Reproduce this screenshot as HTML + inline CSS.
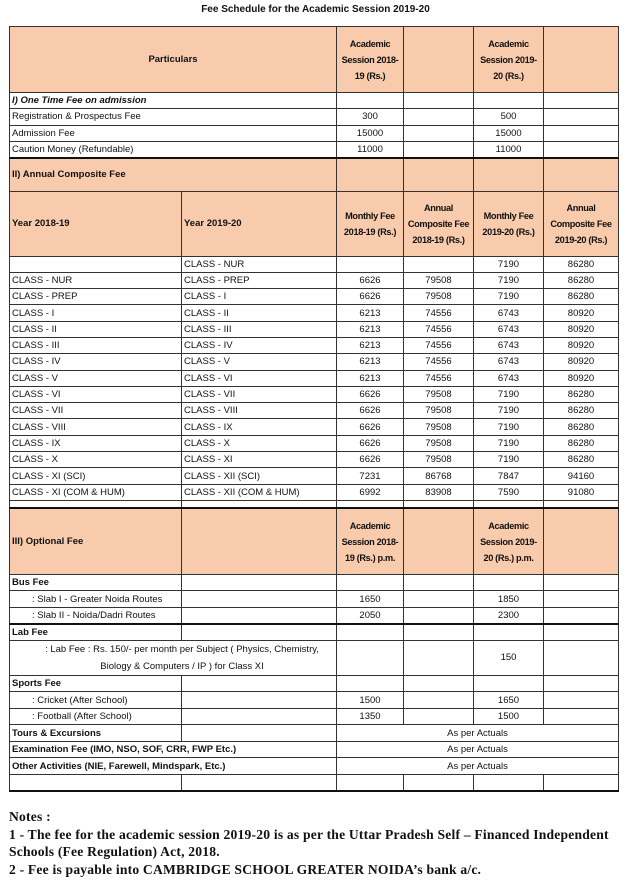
<!DOCTYPE html>
<html><head><meta charset="utf-8"><style>
body{margin:0;width:631px;height:893px;background:#fff;position:relative;font-family:"Liberation Sans",sans-serif;color:#111;overflow:hidden}
.title{position:absolute;top:4px;left:0;width:631px;text-align:center;font-size:10px;font-weight:bold}
table{position:absolute;left:9px;border-collapse:collapse;table-layout:fixed;width:609px;font-size:9.5px}
td{border:1px solid #333;padding:0 2px;overflow:hidden;white-space:nowrap;line-height:11px}
.h{background:#f8cbad;font-weight:bold}
.hw{white-space:normal;font-size:9.2px;letter-spacing:-0.35px;line-height:16px;padding:0 1px}
.c{text-align:center}
.b{font-weight:bold}
.tt{border-top:2px solid #111}
.notes{position:absolute;left:9px;top:808px;font-family:"Liberation Serif",serif;font-weight:bold;font-size:13.6px;line-height:17.5px;letter-spacing:0.2px;width:625px}
</style></head><body>
<div class="title">Fee Schedule for the Academic Session 2019-20</div>
<table style="top:26px">
<colgroup><col style="width:172px"><col style="width:155px"><col style="width:67px"><col style="width:70px"><col style="width:70px"><col style="width:75px"></colgroup>
<tr style="height:66px"><td class="h c" colspan="2">Particulars</td><td class="h c hw">Academic<br>Session 2018-<br>19 (Rs.)</td><td class="h"></td><td class="h c hw">Academic<br>Session 2019-<br>20 (Rs.)</td><td class="h"></td></tr>
<tr style="height:16px"><td colspan="2" class="b"><i>I) One Time Fee on admission</i></td><td></td><td></td><td></td><td></td></tr>
<tr style="height:16.5px"><td colspan="2">Registration &amp; Prospectus Fee</td><td class="c">300</td><td></td><td class="c">500</td><td></td></tr>
<tr style="height:16.5px"><td colspan="2">Admission Fee</td><td class="c">15000</td><td></td><td class="c">15000</td><td></td></tr>
<tr style="height:16.5px"><td colspan="2">Caution Money (Refundable)</td><td class="c">11000</td><td></td><td class="c">11000</td><td></td></tr>
<tr style="height:33px"><td class="h tt" colspan="2">II) Annual Composite Fee</td><td class="h tt"></td><td class="h tt"></td><td class="h tt"></td><td class="h tt"></td></tr>
<tr style="height:65px"><td class="h">Year 2018-19</td><td class="h">Year 2019-20</td><td class="h c hw">Monthly Fee<br>2018-19 (Rs.)</td><td class="h c hw">Annual<br>Composite Fee<br>2018-19 (Rs.)</td><td class="h c hw">Monthly Fee<br>2019-20 (Rs.)</td><td class="h c hw">Annual<br>Composite Fee<br>2019-20 (Rs.)</td></tr>
<tr style="height:16.3px"><td></td><td>CLASS - NUR</td><td></td><td></td><td class="c">7190</td><td class="c">86280</td></tr>
<tr style="height:16.3px"><td>CLASS - NUR</td><td>CLASS - PREP</td><td class="c">6626</td><td class="c">79508</td><td class="c">7190</td><td class="c">86280</td></tr>
<tr style="height:16.3px"><td>CLASS - PREP</td><td>CLASS - I</td><td class="c">6626</td><td class="c">79508</td><td class="c">7190</td><td class="c">86280</td></tr>
<tr style="height:16.3px"><td>CLASS - I</td><td>CLASS - II</td><td class="c">6213</td><td class="c">74556</td><td class="c">6743</td><td class="c">80920</td></tr>
<tr style="height:16.3px"><td>CLASS - II</td><td>CLASS - III</td><td class="c">6213</td><td class="c">74556</td><td class="c">6743</td><td class="c">80920</td></tr>
<tr style="height:16.3px"><td>CLASS - III</td><td>CLASS - IV</td><td class="c">6213</td><td class="c">74556</td><td class="c">6743</td><td class="c">80920</td></tr>
<tr style="height:16.3px"><td>CLASS - IV</td><td>CLASS - V</td><td class="c">6213</td><td class="c">74556</td><td class="c">6743</td><td class="c">80920</td></tr>
<tr style="height:16.3px"><td>CLASS - V</td><td>CLASS - VI</td><td class="c">6213</td><td class="c">74556</td><td class="c">6743</td><td class="c">80920</td></tr>
<tr style="height:16.3px"><td>CLASS - VI</td><td>CLASS - VII</td><td class="c">6626</td><td class="c">79508</td><td class="c">7190</td><td class="c">86280</td></tr>
<tr style="height:16.3px"><td>CLASS - VII</td><td>CLASS - VIII</td><td class="c">6626</td><td class="c">79508</td><td class="c">7190</td><td class="c">86280</td></tr>
<tr style="height:16.3px"><td>CLASS - VIII</td><td>CLASS - IX</td><td class="c">6626</td><td class="c">79508</td><td class="c">7190</td><td class="c">86280</td></tr>
<tr style="height:16.3px"><td>CLASS - IX</td><td>CLASS - X</td><td class="c">6626</td><td class="c">79508</td><td class="c">7190</td><td class="c">86280</td></tr>
<tr style="height:16.3px"><td>CLASS - X</td><td>CLASS - XI</td><td class="c">6626</td><td class="c">79508</td><td class="c">7190</td><td class="c">86280</td></tr>
<tr style="height:16.3px"><td>CLASS - XI (SCI)</td><td>CLASS - XII (SCI)</td><td class="c">7231</td><td class="c">86768</td><td class="c">7847</td><td class="c">94160</td></tr>
<tr style="height:16.3px"><td>CLASS - XI (COM &amp; HUM)</td><td>CLASS - XII (COM &amp; HUM)</td><td class="c">6992</td><td class="c">83908</td><td class="c">7590</td><td class="c">91080</td></tr>
<tr style="height:8px"><td></td><td></td><td></td><td></td><td></td><td></td></tr>
<tr style="height:66px"><td class="h tt">III) Optional Fee</td><td class="h tt"></td><td class="h c tt hw">Academic<br>Session 2018-<br>19 (Rs.) p.m.</td><td class="h tt"></td><td class="h c tt hw">Academic<br>Session 2019-<br>20 (Rs.) p.m.</td><td class="h tt"></td></tr>
<tr style="height:16.5px"><td class="b">Bus Fee</td><td></td><td></td><td></td><td></td><td></td></tr>
<tr style="height:16.5px"><td style="padding-left:22px">: Slab I - Greater Noida Routes</td><td></td><td class="c">1650</td><td></td><td class="c">1850</td><td></td></tr>
<tr style="height:16.5px"><td style="padding-left:22px">: Slab II - Noida/Dadri Routes</td><td></td><td class="c">2050</td><td></td><td class="c">2300</td><td></td></tr>
<tr style="height:16.5px"><td class="b tt">Lab Fee</td><td class="tt"></td><td class="tt"></td><td class="tt"></td><td class="tt"></td><td class="tt"></td></tr>
<tr style="height:35px"><td colspan="2" class="c" style="line-height:17px;padding-left:20px">: Lab Fee : Rs. 150/- per month per Subject ( Physics, Chemistry,<br>Biology &amp; Computers / IP ) for Class XI</td><td></td><td></td><td class="c">150</td><td></td></tr>
<tr style="height:16.5px"><td class="b">Sports Fee</td><td></td><td></td><td></td><td></td><td></td></tr>
<tr style="height:16.5px"><td style="padding-left:22px">: Cricket (After School)</td><td></td><td class="c">1500</td><td></td><td class="c">1650</td><td></td></tr>
<tr style="height:16.5px"><td style="padding-left:22px">: Football (After School)</td><td></td><td class="c">1350</td><td></td><td class="c">1500</td><td></td></tr>
<tr style="height:16.5px"><td class="b">Tours &amp; Excursions</td><td></td><td colspan="4" class="c">As per Actuals</td></tr>
<tr style="height:16.5px"><td colspan="2" class="b">Examination Fee (IMO, NSO, SOF, CRR, FWP Etc.)</td><td colspan="4" class="c">As per Actuals</td></tr>
<tr style="height:16.5px"><td colspan="2" class="b">Other Activities (NIE, Farewell, Mindspark, Etc.)</td><td colspan="4" class="c">As per Actuals</td></tr>
<tr style="height:16.5px"><td style="border-bottom:2px solid #111"></td><td style="border-bottom:2px solid #111"></td><td style="border-bottom:2px solid #111"></td><td style="border-bottom:2px solid #111"></td><td style="border-bottom:2px solid #111"></td><td style="border-bottom:2px solid #111"></td></tr>
</table>
<div class="notes">Notes :<br>1 - The fee for the academic session 2019-20 is as per the Uttar Pradesh Self – Financed Independent<br>Schools (Fee Regulation) Act, 2018.<br>2 - Fee is payable into CAMBRIDGE SCHOOL GREATER NOIDA’s bank a/c.</div>
</body></html>
